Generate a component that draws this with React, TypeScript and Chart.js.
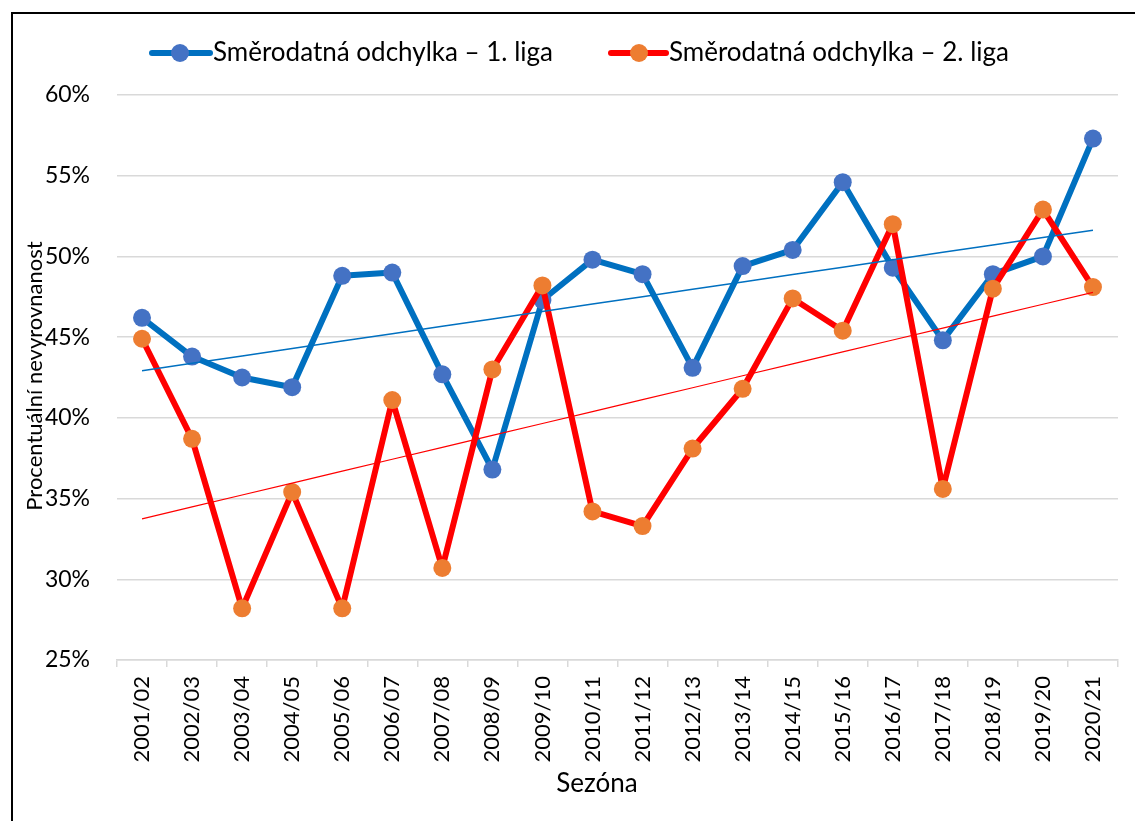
import React, { useEffect, useRef } from "react";
import { Chart, registerables } from "chart.js";

Chart.register(...registerables);

const seasons = [
  "2001/02", "2002/03", "2003/04", "2004/05", "2005/06", "2006/07", "2007/08",
  "2008/09", "2009/10", "2010/11", "2011/12", "2012/13", "2013/14", "2014/15",
  "2015/16", "2016/17", "2017/18", "2018/19", "2019/20", "2020/21",
];

const liga1 = [
  46.2, 43.8, 42.5, 41.9, 48.8, 49.0, 42.7, 36.8, 47.3, 49.8,
  48.9, 43.1, 49.4, 50.4, 54.6, 49.3, 44.8, 48.9, 50.0, 57.3,
];

const liga2 = [
  44.9, 38.7, 28.2, 35.4, 28.2, 41.1, 30.7, 43.0, 48.2, 34.2,
  33.3, 38.1, 41.8, 47.4, 45.4, 52.0, 35.6, 48.0, 52.9, 48.1,
];

const legendLabels = ["Směrodatná odchylka – 1. liga", "Směrodatná odchylka – 2. liga"];
const yTitle = "Procentuální nevyrovnanost";
const xTitle = "Sezóna";

const FONT = "Lato";

function linearTrend(values: number[]): number[] {
  const n = values.length;
  const mx = (n - 1) / 2;
  const my = values.reduce((a, b) => a + b, 0) / n;
  let num = 0;
  let den = 0;
  values.forEach((v, i) => {
    num += (i - mx) * (v - my);
    den += (i - mx) * (i - mx);
  });
  const slope = num / den;
  return values.map((_, i) => my + slope * (i - mx));
}

const decorPlugin = {
  id: "decor",
  afterDraw(chart: any) {
    const ctx = chart.ctx as CanvasRenderingContext2D;
    ctx.save();
    // frame
    ctx.strokeStyle = "#000000";
    ctx.lineWidth = 2;
    ctx.beginPath();
    ctx.moveTo(12, 821);
    ctx.lineTo(12, 13);
    ctx.lineTo(1135, 13);
    ctx.stroke();

    // legend
    const items = [
      { x0: 152, x1: 210, cx: 180, tx: 213, line: "#0070C0", dot: "#4472C4", text: legendLabels[0] },
      { x0: 611, x1: 666, cx: 639, tx: 669, line: "#FF0000", dot: "#ED7D31", text: legendLabels[1] },
    ];
    const ly = 53;
    items.forEach((it) => {
      ctx.strokeStyle = it.line;
      ctx.lineWidth = 6;
      ctx.lineCap = "round";
      ctx.beginPath();
      ctx.moveTo(it.x0, ly);
      ctx.lineTo(it.x1, ly);
      ctx.stroke();
      ctx.fillStyle = it.dot;
      ctx.beginPath();
      ctx.arc(it.cx, ly, 9, 0, Math.PI * 2);
      ctx.fill();
      ctx.fillStyle = "#000000";
      ctx.font = `26px ${FONT}`;
      ctx.textAlign = "left";
      ctx.textBaseline = "middle";
      ctx.fillText(it.text, it.tx, ly);
    });

    // axis titles
    ctx.fillStyle = "#000000";
    ctx.textAlign = "center";
    ctx.textBaseline = "middle";
    ctx.font = `26px ${FONT}`;
    ctx.fillText(xTitle, 597, 784);

    ctx.font = `22px ${FONT}`;
    ctx.translate(35, 376);
    ctx.rotate(-Math.PI / 2);
    ctx.fillText(yTitle, 0, 0);
    ctx.restore();
  },
};

export default function App() {
  const ref = useRef<HTMLCanvasElement | null>(null);

  useEffect(() => {
    if (!ref.current) return;
    const trend1 = linearTrend(liga1);
    const trend2 = linearTrend(liga2);
    const chart = new Chart(ref.current, {
      type: "line",
      data: {
        labels: seasons,
        datasets: [
          {
            label: legendLabels[0],
            data: liga1,
            borderColor: "#0070C0",
            backgroundColor: "#4472C4",
            pointBackgroundColor: "#4472C4",
            pointBorderWidth: 0,
            pointRadius: 9,
            borderWidth: 6,
            borderJoinStyle: "round",
            borderCapStyle: "round",
            tension: 0,
            order: 2,
          },
          {
            label: legendLabels[1],
            data: liga2,
            borderColor: "#FF0000",
            backgroundColor: "#ED7D31",
            pointBackgroundColor: "#ED7D31",
            pointBorderWidth: 0,
            pointRadius: 9,
            borderWidth: 6,
            borderJoinStyle: "round",
            borderCapStyle: "round",
            tension: 0,
            order: 1,
          },
          {
            label: "trend1",
            data: trend1,
            borderColor: "#0070C0",
            borderWidth: 1.5,
            pointRadius: 0,
            tension: 0,
            order: 0,
          },
          {
            label: "trend2",
            data: trend2,
            borderColor: "#FF0000",
            borderWidth: 1.2,
            pointRadius: 0,
            tension: 0,
            order: 0,
          },
        ],
      },
      options: {
        responsive: false,
        animation: false,
        devicePixelRatio: 1,
        layout: { padding: { top: 95, right: 17, bottom: 0, left: 0 } },
        plugins: {
          legend: { display: false },
          tooltip: { enabled: false },
          title: { display: false },
        },
        scales: {
          x: {
            type: "category",
            offset: true,
            grid: {
              offset: true,
              drawOnChartArea: false,
              drawTicks: true,
              tickLength: 7,
              color: "#D9D9D9",
              lineWidth: 1.5,
            },
            border: { display: true, color: "#D9D9D9", width: 1.5 },
            ticks: {
              minRotation: 90,
              maxRotation: 90,
              autoSkip: false,
              padding: 9,
              color: "#000000",
              font: { family: FONT, size: 22 },
            },
            afterFit(scale: any) {
              scale.height = 161;
            },
          },
          y: {
            min: 25,
            max: 60,
            ticks: {
              stepSize: 5,
              padding: 27,
              color: "#000000",
              font: { family: FONT, size: 23 },
              callback: (v: any) => `${v}%`,
            },
            grid: { color: "#D9D9D9", lineWidth: 1.5, drawTicks: false },
            border: { display: false },
            afterFit(scale: any) {
              scale.width = 117;
            },
          },
        },
      },
      plugins: [decorPlugin],
    });
    return () => chart.destroy();
  }, []);

  return (
    <div style={{ position: "absolute", left: 0, top: 0, width: 1135, height: 821, background: "#ffffff" }}>
      <canvas ref={ref} width={1135} height={821} style={{ width: 1135, height: 821, display: "block" }} />
    </div>
  );
}
